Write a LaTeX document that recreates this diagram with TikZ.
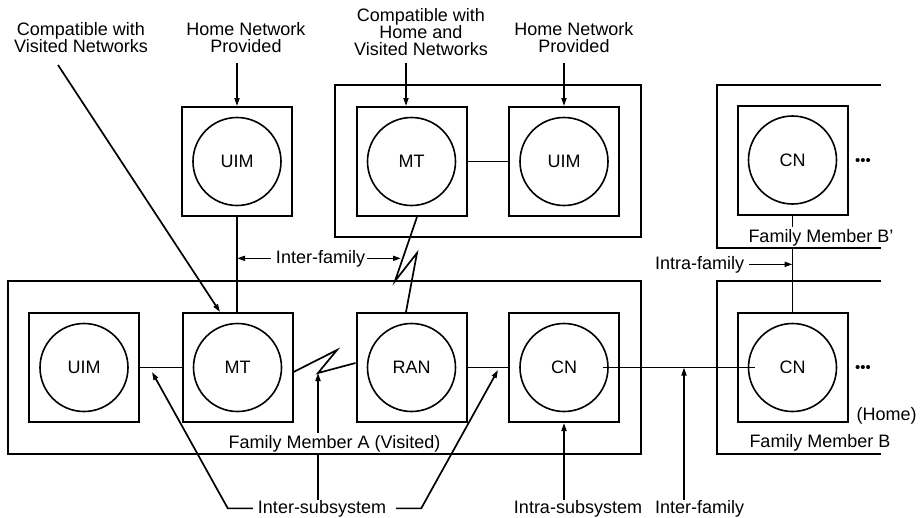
\documentclass[tikz,border=0pt]{standalone}
\usepackage{fontspec}
\setmainfont{Liberation Sans}
\usetikzlibrary{arrows.meta,calc}
\newcommand\dgfont{\fontsize{18}{17}\selectfont\lineskiplimit=-10pt\relax}
\begin{document}
\begin{tikzpicture}[x=1pt,y=-1pt,
  box/.style={draw,line width=2pt,minimum width=110pt,minimum height=109pt,inner sep=0},
  circ/.style={draw,circle,line width=1.6pt,minimum size=88pt,inner sep=0,font=\dgfont},
  frame/.style={line width=2pt},
  conn/.style={line width=1.7pt},
  arr/.style={conn,-{Triangle[length=8pt,width=5pt]}},
  lbl/.style={inner sep=0,align=center,font=\dgfont},
  wlbl/.style={lbl,fill=white,inner ysep=1.5pt,inner xsep=2pt},
  dots/.style={inner sep=0,font=\fontsize{15}{15}\selectfont},
]
\path[use as bounding box] (0,0) rectangle (920,517);

% subsystem boxes and circles
\node[box] (uimT) at (237,161.5) {};
\node[circ] (uimTc) at (uimT) {UIM};
\node[box] (mtT) at (411.5,161.5) {};
\node[circ] (mtTc) at (mtT) {MT};
\node[box] (uimT2) at (564,161.5) {};
\node[circ] (uimT2c) at (uimT2) {UIM};
\node[box] (cnBp) at (792.5,160) {};
\node[circ] (cnBpc) at (cnBp) {CN};

\node[box] (uimA) at (84,367.5) {};
\node[circ] (uimAc) at (uimA) {UIM};
\node[box] (mtA) at (237.5,367.5) {};
\node[circ] (mtAc) at (mtA) {MT};
\node[box] (ran) at (411.5,367.5) {};
\node[circ] (ranc) at (ran) {RAN};
\node[box] (cnA) at (564,367.5) {};
\node[circ] (cnAc) at (cnA) {CN};
\node[box] (cnB) at (792.5,367.5) {};
\node[circ] (cnBc) at (cnB) {CN};

\node[dots,anchor=base] (d1) at (863,165.5) {•••};
\node[dots,anchor=base] (d2) at (863,372.5) {•••};

% top labels
\node[lbl,anchor=south] (t1) at (81,53) {Compatible with\\Visited Networks};
\node[lbl,anchor=south] (t2) at (246,53) {Home Network\\Provided};
\node[lbl,anchor=south] (t3) at (421,56) {Compatible with\\Home and\\Visited Networks};
\node[lbl,anchor=south] (t4) at (574,53) {Home Network\\Provided};

\coordinate (y63) at (0,63);
\coordinate (c1) at (58,65);
\draw[arr] (c1) -- ($(mtA.north)+(-17.5,0)$);
\draw[arr] (uimT.north |- y63) -- (uimT.north);
\draw[arr] ($(mtT.north |- y63)+(-5.5,0)$) -- ($(mtT.north)+(-5.5,0)$);
\draw[arr] (uimT2.north |- y63) -- (uimT2.north);

% links
\draw[conn] (mtT.east) -- (uimT2.west);
\draw[conn] (uimT.south) -- (uimT.south |- mtA.north);
\coordinate (bt1) at (395,281);
\coordinate (bt2) at (417,253);
\draw[conn] ($(mtT.south)+(5.5,0)$) -- (bt1) -- (bt2) -- ($(ran.north)+(-5.5,0)$);

\draw[conn] (uimA.east) -- (mtA.west);
\coordinate (bm1) at (337,350);
\coordinate (bv) at (318,373);
\draw[conn] ($(mtA.east)+(0,4.5)$) -- (bm1) -- (bv) -- ($(ran.west)+(0,-4.5)$);
\draw[conn] (ran.east) -- (cnA.west);
\draw[conn] ($(cnAc.center)+(39,0)$) -- ($(cnBc.center)+(-37.5,0)$);
\draw[conn] (cnBp.south) -- (cnB.north);

% middle labels
\node[lbl,anchor=base] (if1) at (320.5,263) {Inter-family};
\coordinate (b1) at (401,0);
\draw[arr] ([xshift=-5pt]if1.west) -- (uimT.south |- if1.west);
\draw[arr] ([xshift=2pt]if1.east) -- (b1 |- if1.east);
\node[lbl,anchor=base] (if2) at (699.5,269) {Intra-family};
\draw[arr] ([xshift=5pt]if2.east) -- (cnB.north |- if2.east);

% bottom labels
\node[lbl,anchor=base] (is) at (322,513) {Inter-subsystem};
\node[lbl,anchor=base] (iss) at (578,513) {Intra-subsystem};
\node[lbl,anchor=base] (if3) at (699.5,513) {Inter-family};
\coordinate (ta) at (152,372);
\coordinate (tb) at (498,370);
\coordinate (tc) at (684,367.5);
\draw[arr] ([xshift=-5pt]is.west) -- ++(-25,0) -- (ta);
\draw[arr] ([xshift=10pt]is.east) -- ++(25,0) -- (tb);
\draw[arr] (bv |- is.north) -- (bv);
\draw[arr] (cnA.south |- iss.north) -- (cnA.south);
\draw[arr] (tc |- if3.north) -- (tc);

% family labels
\node[wlbl,anchor=base] (fmA) at (334.5,448) {Family Member A (Visited)};
\node[wlbl,anchor=base] (fmBp) at (821,242) {Family Member B’};
\node[lbl,anchor=base] (fmB) at (820,447) {Family Member B};
\node[lbl,anchor=base] (home) at (886.5,420) {(Home)};

% family frames
\draw[frame] (335,85) rectangle (641,237);
\draw[frame] (8,281) rectangle (641,454);
\draw[frame] (881,85) -- (717,85) -- (717,248) -- (881,248);
\draw[frame] (881,281) -- (717,281) -- (717,454) -- (881,454);
\end{tikzpicture}
\end{document}
